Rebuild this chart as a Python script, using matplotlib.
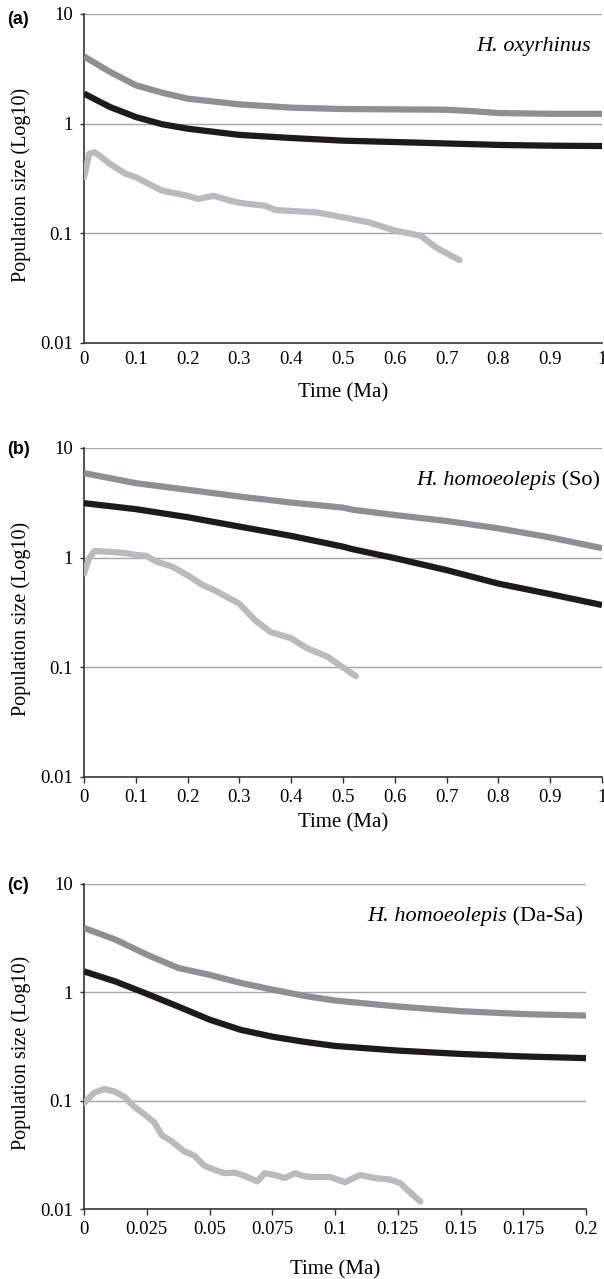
import matplotlib.pyplot as plt
from matplotlib.ticker import FixedLocator, FixedFormatter, NullLocator

plt.rcParams['font.family'] = ['Liberation Serif', 'DejaVu Serif']

# (a) H. oxyrhinus
a_x = [0, 0.05, 0.1, 0.15, 0.2, 0.3, 0.4, 0.5, 0.6, 0.7, 0.75, 0.8, 0.9, 1.0]
a_upper = [4.1, 2.97, 2.24, 1.92, 1.69, 1.5, 1.40, 1.36, 1.35, 1.34, 1.30, 1.25, 1.23, 1.23]
a_median = [1.88, 1.42, 1.15, 0.99, 0.90, 0.79, 0.74, 0.70, 0.68, 0.66, 0.65, 0.64, 0.63, 0.625]
a_low_x = [0, 0.01, 0.02, 0.03, 0.05, 0.07, 0.08, 0.1, 0.12, 0.15, 0.2, 0.22, 0.25,
           0.28, 0.3, 0.35, 0.37, 0.4, 0.45, 0.5, 0.55, 0.6, 0.65, 0.68, 0.725]
a_lower = [0.325, 0.53, 0.55, 0.51, 0.43, 0.375, 0.35, 0.325, 0.29, 0.246, 0.22, 0.206, 0.22,
           0.2, 0.19, 0.178, 0.163, 0.16, 0.155, 0.14, 0.126, 0.106, 0.095, 0.074, 0.057]

# (b) H. homoeolepis (So)
b_x = [0, 0.1, 0.2, 0.3, 0.4, 0.5, 0.52, 0.6, 0.7, 0.8, 0.9, 1.0]
b_upper = [5.9, 4.78, 4.16, 3.61, 3.18, 2.86, 2.73, 2.45, 2.16, 1.85, 1.53, 1.22]
b_median = [3.14, 2.77, 2.34, 1.92, 1.58, 1.26, 1.19, 0.99, 0.77, 0.58, 0.465, 0.37]
b_low_x = [0, 0.01, 0.02, 0.05, 0.08, 0.1, 0.12, 0.14, 0.17, 0.2, 0.23, 0.25, 0.3,
           0.33, 0.36, 0.4, 0.43, 0.47, 0.5, 0.525]
b_lower = [0.72, 0.99, 1.15, 1.13, 1.1, 1.06, 1.04, 0.92, 0.83, 0.69, 0.56, 0.51, 0.38,
           0.27, 0.21, 0.184, 0.15, 0.125, 0.1, 0.083]

# (c) H. homoeolepis (Da-Sa)
c_x = [0, 0.0125, 0.025, 0.0375, 0.05, 0.0625, 0.075, 0.0875, 0.1, 0.125, 0.15, 0.175, 0.2]
c_upper = [3.93, 3.07, 2.23, 1.68, 1.45, 1.22, 1.06, 0.93, 0.84, 0.74, 0.67, 0.63, 0.61]
c_median = [1.56, 1.26, 0.97, 0.74, 0.56, 0.45, 0.39, 0.35, 0.32, 0.29, 0.27, 0.256, 0.247]
c_low_x = [0, 0.004, 0.008, 0.012, 0.016, 0.02, 0.024, 0.028, 0.031, 0.035, 0.04, 0.044,
           0.048, 0.052, 0.056, 0.06, 0.064, 0.069, 0.072, 0.076, 0.08, 0.084, 0.088,
           0.092, 0.098, 0.104, 0.11, 0.116, 0.122, 0.126, 0.13, 0.134]
c_lower = [0.095, 0.118, 0.128, 0.122, 0.109, 0.088, 0.075, 0.063, 0.048, 0.042, 0.034, 0.031,
           0.025, 0.023, 0.0214, 0.0217, 0.0202, 0.018, 0.0214, 0.0206, 0.0193, 0.0214, 0.02,
           0.0197, 0.0197, 0.0177, 0.0206, 0.0193, 0.0187, 0.0173, 0.0142, 0.0117]

a_xticks = [0, 0.1, 0.2, 0.3, 0.4, 0.5, 0.6, 0.7, 0.8, 0.9, 1]
a_xlabels = ['0', '0.1', '0.2', '0.3', '0.4', '0.5', '0.6', '0.7', '0.8', '0.9', '1']
c_xticks = [0, 0.025, 0.05, 0.075, 0.1, 0.125, 0.15, 0.175, 0.2]
c_xlabels = ['0', '0.025', '0.05', '0.075', '0.1', '0.125', '0.15', '0.175', '0.2']
yticks = [0.01, 0.1, 1, 10]
ylabels = ['0.01', '0.1', '1', '10']

UPPER = '#8e8f92'
MEDIAN = '#1c1a1b'
LOWER = '#b9babc'

W, H = 604, 1279
fig = plt.figure(figsize=(W / 100, H / 100), dpi=100)

# tag, species, site, left/right/top/bottom px, data..., ticks, xmax, xtick length, xlabel offset, species x
panels = [
    ('(a)', 'H. oxyrhinus', '', (84, 602, 14, 343), 20,
     a_x, a_upper, a_median, a_low_x, a_lower, a_xticks, a_xlabels, 1.0, 0, 50, 0.979),
    ('(b)', 'H. homoeolepis', ' (So)', (84, 602, 448, 777), 450,
     b_x, b_upper, b_median, b_low_x, b_lower, a_xticks, a_xlabels, 1.0, 4, 46, 0.996),
    ('(c)', 'H. homoeolepis', ' (Da-Sa)', (84, 586, 884, 1209), 885,
     c_x, c_upper, c_median, c_low_x, c_lower, c_xticks, c_xlabels, 0.2, 4, 61, 0.994),
]

for (tag, species, site, box, tag_y, x, up, med, lx, low, xt, xl, xmax,
     xtl, xlab_off, sp_x) in panels:
    l, r, t, b = box
    ax = fig.add_axes([l / W, 1 - b / H, (r - l) / W, (b - t) / H])
    ax.set_yscale('log')
    ax.set_ylim(0.01, 10)
    ax.set_xlim(0, xmax)
    for g in [0.1, 1, 10]:
        ax.axhline(g, color='#a6a6a6', lw=1.0, zorder=1)
    ax.plot(x, up, color=UPPER, lw=4.5, solid_capstyle='butt', zorder=3)
    ax.plot(x, med, color=MEDIAN, lw=4.5, solid_capstyle='butt', zorder=3)
    ax.plot(lx, low, color=LOWER, lw=4.5, solid_capstyle='round',
            solid_joinstyle='round', zorder=3)
    ax.yaxis.set_major_locator(FixedLocator(yticks))
    ax.yaxis.set_major_formatter(FixedFormatter(ylabels))
    ax.yaxis.set_minor_locator(NullLocator())
    ax.set_xticks(xt)
    ax.set_xticklabels(xl)
    ax.tick_params(direction='out', width=1, labelsize=13.5, color='#333333')
    ax.tick_params(axis='y', length=3, pad=5)
    ax.tick_params(axis='x', length=xtl, pad=5.5 - xtl * 0.3)
    for s in ['top', 'right']:
        ax.spines[s].set_visible(False)
    for s in ['left', 'bottom']:
        ax.spines[s].set_linewidth(1.2)
        ax.spines[s].set_color('#333333')

    ax.set_ylabel('Population size (Log10)', fontsize=14.5, va='center')
    ax.yaxis.set_label_coords(-63 / (r - l), 0.48)
    ax.set_xlabel('Time (Ma)', fontsize=15, va='center')
    ax.xaxis.set_label_coords(0.5, -xlab_off / (b - t))

    sp_y = 0.90
    if site:
        st = ax.text(sp_x, sp_y, site, transform=ax.transAxes, ha='right', va='center',
                     fontsize=16)
        fig.canvas.draw()
        bb = st.get_window_extent().transformed(ax.transAxes.inverted())
        ax.text(bb.x0, sp_y, species, transform=ax.transAxes, ha='right', va='center',
                fontsize=16, style='italic')
    else:
        ax.text(sp_x, sp_y, species, transform=ax.transAxes, ha='right', va='center',
                fontsize=16, style='italic')

    fig.text(7 / W, 1 - tag_y / H, tag, ha='left', va='center',
             fontsize=13, fontweight='bold', family='Liberation Sans')

fig.savefig('out.png', dpi=100)
